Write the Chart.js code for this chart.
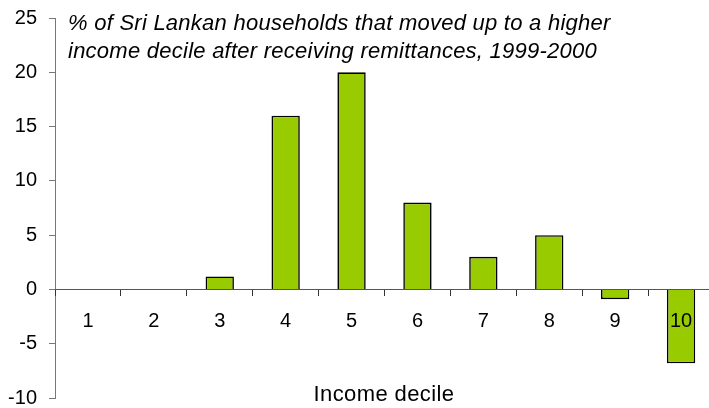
<!DOCTYPE html>
<html>
<head>
<meta charset="utf-8">
<script src="https://cdn.jsdelivr.net/npm/chart.js@4"></script>
<style>
  html, body { margin: 0; padding: 0; background: #fff; overflow: hidden; }
  #wrap { position: relative; width: 714px; height: 408px; }
</style>
</head>
<body>
<div id="wrap"><canvas id="chart"></canvas></div>
<script>
// values
const deciles = ['1', '2', '3', '4', '5', '6', '7', '8', '9', '10'];
const movedUp = [0, 0, 1.2, 16, 20, 8, 3, 5, -0.9, -6.8];
const yTicks = [-10, -5, 0, 5, 10, 15, 20, 25];
const titleLines = [
    '% of Sri Lankan households that moved up to a higher',
    'income decile after receiving remittances, 1999-2000'
];
const xTitle = 'Income decile';

const FONT = '"Liberation Sans", Arial, sans-serif';

// title inside the plot and the x title at the bottom
const textPlugin = {
    id: 'texts',
    afterDraw(chart) {
        const { ctx, chartArea } = chart;
        ctx.save();
        ctx.fillStyle = '#000';
        ctx.textBaseline = 'alphabetic';
        ctx.textAlign = 'left';
        ctx.font = 'italic 22px ' + FONT;
        ctx.letterSpacing = '0.25px';
        ctx.fillText(titleLines[0], chartArea.left + 13, 30);
        ctx.fillText(titleLines[1], chartArea.left + 13, 58);
        ctx.font = '22px ' + FONT;
        ctx.letterSpacing = '0.4px';
        ctx.textAlign = 'center';
        ctx.fillText(xTitle, 384, 401);
        ctx.restore();
    }
};

new Chart(document.getElementById('chart'), {
    type: 'bar',
    data: {
        labels: deciles,
        datasets: [{
            data: movedUp,
            backgroundColor: '#99CC00',
            borderColor: '#000',
            borderWidth: 1.6,
            barPercentage: 0.43,
            categoryPercentage: 1
        }]
    },
    options: {
        responsive: true,
        maintainAspectRatio: false,
        animation: false,
        layout: { padding: { top: 18, bottom: 10, left: 0, right: 0 } },
        plugins: {
            legend: { display: false },
            tooltip: { enabled: false }
        },
        scales: {
            x: {
                position: { y: 0 },
                grid: {
                    drawOnChartArea: false,
                    drawTicks: true,
                    tickLength: 6,
                    color: '#333',
                    offset: true,
                    z: 1
                },
                border: { color: '#555', width: 1, z: 1 },
                ticks: {
                    color: '#000',
                    font: { family: FONT, size: 20 },
                    padding: 14,
                    maxRotation: 0,
                    z: 1
                }
            },
            y: {
                min: yTicks[0],
                max: yTicks[yTicks.length - 1],
                afterFit: (scale) => {
                    // fixed axis width, and no extra room above/below for the end labels
                    scale.width = 55;
                    scale.paddingTop = 0;
                    scale.paddingBottom = 0;
                },
                grid: {
                    drawOnChartArea: false,
                    drawTicks: true,
                    tickLength: 6,
                    color: '#777'
                },
                border: { color: '#777', width: 1 },
                ticks: {
                    stepSize: 5,
                    color: '#000',
                    font: { family: FONT, size: 20 },
                    padding: 12
                }
            }
        }
    },
    plugins: [textPlugin]
});
</script>
</body>
</html>
